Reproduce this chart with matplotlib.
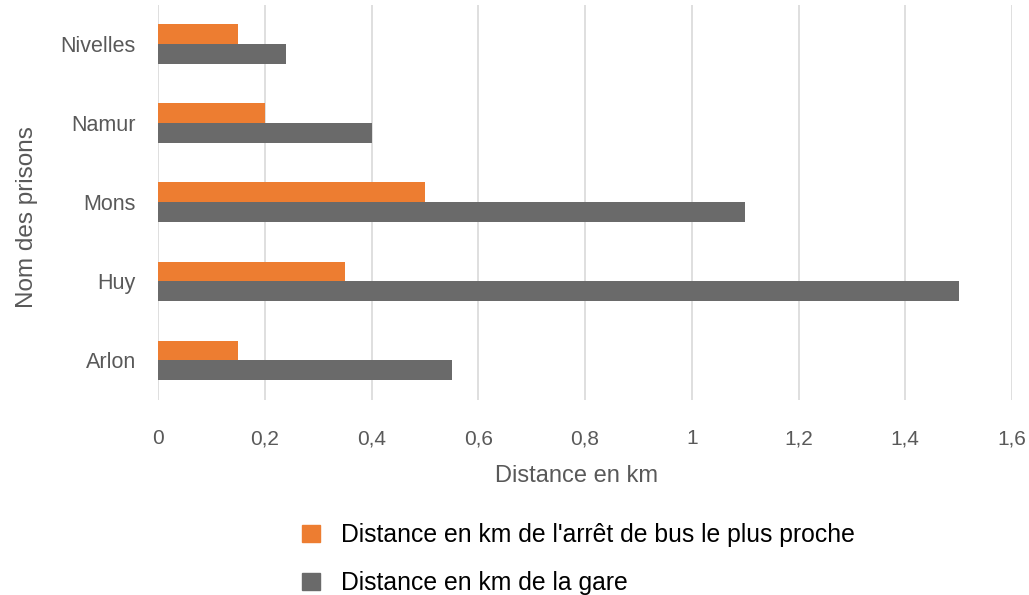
import matplotlib.pyplot as plt
import numpy as np
from matplotlib.patches import Patch

# donnees
prisons = ["Arlon", "Huy", "Mons", "Namur", "Nivelles"]
dist_bus = [0.15, 0.35, 0.5, 0.2, 0.15]
dist_gare = [0.55, 1.5, 1.1, 0.4, 0.24]
xticks = [0, 0.2, 0.4, 0.6, 0.8, 1, 1.2, 1.4, 1.6]
xtick_labels = ["0", "0,2", "0,4", "0,6", "0,8", "1", "1,2", "1,4", "1,6"]

label_bus = "Distance en km de l'arrêt de bus le plus proche"
label_gare = "Distance en km de la gare"

orange = "#ED7D31"
gris = "#6A6A6A"
texte = "#595959"

plt.rcParams["font.family"] = ["Liberation Sans", "DejaVu Sans"]

fig = plt.figure(figsize=(10.29, 5.95), dpi=100)
ax = fig.add_axes([158 / 1029, 1 - 400 / 595, (1012 - 158) / 1029, (400 - 4.5) / 595])

y = np.arange(len(prisons))
h = 0.25
ax.barh(y + h / 2, dist_bus, height=h, color=orange, zorder=3)
ax.barh(y - h / 2, dist_gare, height=h, color=gris, zorder=3)

ax.set_xlim(0, 1.6)
ax.set_ylim(-0.5, len(prisons) - 0.5)
ax.set_xticks(xticks)
ax.set_xticklabels(xtick_labels, fontsize=15, color=texte)
ax.set_yticks(y)
ax.set_yticklabels(prisons, fontsize=15.5, color=texte)
ax.tick_params(axis="both", length=0)
ax.tick_params(axis="x", pad=21)
ax.tick_params(axis="y", pad=16)
ax.xaxis.grid(True, color="#D9D9D9", linewidth=1.2, zorder=0)
for s in ax.spines.values():
    s.set_visible(False)

ax.set_xlabel("Distance en km", fontsize=17, color=texte, labelpad=12)
ax.xaxis.label.set_x(0.4895)
ax.set_ylabel("Nom des prisons", fontsize=17.5, color=texte, labelpad=16)
ax.yaxis.label.set_y(0.463)

handles = [Patch(color=orange, label=label_bus), Patch(color=gris, label=label_gare)]
fig.legend(handles=handles, loc="upper left", bbox_to_anchor=(280 / 1029, 1 - 501 / 595),
           frameon=False, prop={"size": 17.8},
           handlelength=0.7, handleheight=0.7, handletextpad=0.85, labelspacing=0.98)

fig.savefig("out.png", dpi=100)
